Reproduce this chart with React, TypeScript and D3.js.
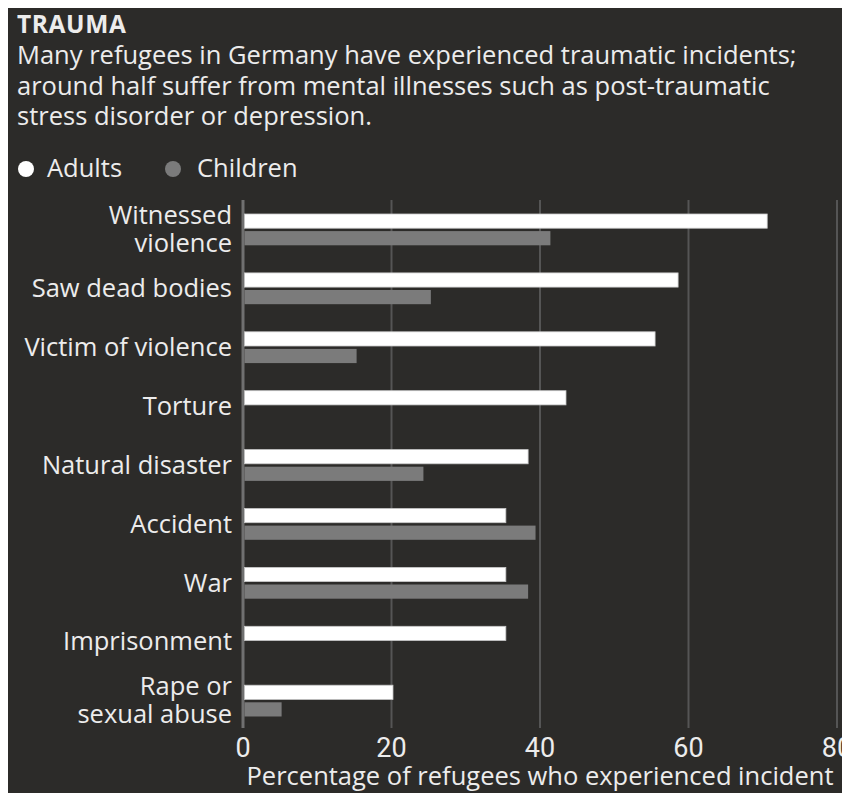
import * as d3 from "d3"

const categories = [
  "Witnessed violence",
  "Saw dead bodies",
  "Victim of violence",
  "Torture",
  "Natural disaster",
  "Accident",
  "War",
  "Imprisonment",
  "Rape or sexual abuse",
]
const labelLines = [
  ["Witnessed", "violence"],
  ["Saw dead bodies"],
  ["Victim of violence"],
  ["Torture"],
  ["Natural disaster"],
  ["Accident"],
  ["War"],
  ["Imprisonment"],
  ["Rape or", "sexual abuse"],
]
const adults = [70.6, 58.6, 55.5, 43.5, 38.4, 35.4, 35.4, 35.4, 20.2]
const children: (number | null)[] = [41.4, 25.3, 15.3, null, 24.3, 39.4, 38.4, null, 5.2]
const ticks = [0, 20, 40, 60, 80]
const series = ["Adults", "Children"]

const W = 842, H = 785
const FONT = "'Open Sans', 'Liberation Sans', sans-serif"
const TICKFONT = "Roboto, sans-serif"
const BG = "#2c2b29"
const TXT = "#ececec"
const CHILD = "#7b7b7b"
const FS = 25.5

export default function App() {
  const x = d3.scaleLinear().domain([0, 80]).range([235, 829])
  const y = d3.scaleBand<string>().domain(categories).range([206, 206 + 9 * 58.9]).paddingInner(0).paddingOuter(0)
  const inner = d3.scaleBand<string>().domain(series).range([0, 31.3]).paddingInner(5.3 / 31.3)
  const barH = inner.bandwidth()
  const gridTop = 192, gridBottom = 720

  return (
    <svg width={W} height={H} style={{ display: "block", background: BG }} fontFamily={FONT}>
      <rect width={W} height={H} fill={BG} />
      <text x={9} y={25} fill={TXT} fontSize={24.5} fontWeight="bold" letterSpacing={0.6}>TRAUMA</text>
      {[
        "Many refugees in Germany have experienced traumatic incidents;",
        "around half suffer from mental illnesses such as post-traumatic",
        "stress disorder or depression.",
      ].map((t, i) => (
        <text key={i} x={9} y={56 + i * 30.5} fill={TXT} fontSize={FS}>{t}</text>
      ))}
      {/* legend */}
      <circle cx={18} cy={161} r={8} fill="#fff" />
      <text x={39} y={169} fill={TXT} fontSize={FS}>Adults</text>
      <circle cx={165} cy={161} r={8} fill={CHILD} />
      <text x={189} y={169} fill={TXT} fontSize={FS}>Children</text>

      {/* grid */}
      {ticks.slice(1).map(t => (
        <line key={t} x1={x(t)} x2={x(t)} y1={gridTop} y2={gridBottom} stroke="#555" strokeWidth={2} />
      ))}
      <line x1={x(0)} x2={x(0)} y1={gridTop} y2={gridBottom} stroke="#707070" strokeWidth={3} />

      {/* bars */}
      {categories.map((c, i) => {
        const y0 = y(c)!
        const ch = children[i]
        return (
          <g key={c}>
            <rect x={x(0) + 1.5} y={y0 + inner("Adults")!} width={x(adults[i]) - x(0) - 1.5} height={barH}
              fill="#fff" stroke="#c8c8c8" strokeWidth={0.8} />
            {ch != null && (
              <rect x={x(0) + 1.5} y={y0 + inner("Children")!} width={x(ch) - x(0) - 1.5} height={barH} fill={CHILD} />
            )}
          </g>
        )
      })}

      {/* category labels */}
      {categories.map((c, i) => {
        const cy = y(c)! + 31.3 / 2
        const lines = labelLines[i]
        const lh = 28
        return (
          <text key={c} x={224} fill={TXT} fontSize={FS} textAnchor="end">
            {lines.map((l, j) => (
              <tspan key={j} x={224} y={cy + 8.5 + (j - (lines.length - 1) / 2) * lh}>{l}</tspan>
            ))}
          </text>
        )
      })}

      {/* x axis */}
      {ticks.map(t => (
        <text key={t} x={x(t)} y={749} fill={TXT} fontSize={27} fontFamily={TICKFONT} textAnchor="middle">{t}</text>
      ))}
      <text x={(x(0) + x(80)) / 2} y={777} fill={TXT} fontSize={FS} textAnchor="middle">
        Percentage of refugees who experienced incident
      </text>
    </svg>
  )
}
